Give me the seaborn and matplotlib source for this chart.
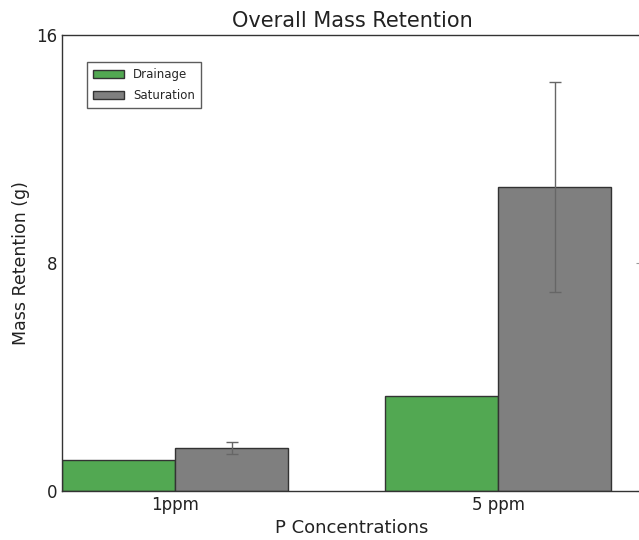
import numpy as np
import pandas as pd
import matplotlib
matplotlib.use("Agg")
import matplotlib.pyplot as plt
import seaborn as sns

# values
concentrations = ["1ppm", "5 ppm"]
treatments = ["Drainage", "Saturation"]
drainage = [1.09, 3.32]
saturation = [1.51, 10.67]
drainage_err = [0.0, 0.0]
saturation_err = [0.22, 3.7]

COLORS = {"Drainage": "#52A852", "Saturation": "#7F7F7F"}

df = pd.DataFrame({
    "conc": concentrations * 2,
    "treatment": ["Drainage"] * 2 + ["Saturation"] * 2,
    "mass": drainage + saturation,
    "err": drainage_err + saturation_err,
})

sns.set_style("white")
plt.rcParams["font.family"] = ["DejaVu Sans"]

fig = plt.figure(figsize=(6.39, 5.40), dpi=100)
ax = fig.add_axes([0.097, 0.091, 0.908, 0.844])

sns.barplot(data=df, x="conc", y="mass", hue="treatment",
            hue_order=treatments, order=concentrations,
            palette=COLORS, width=0.7, errorbar=None,
            edgecolor="#333333", linewidth=1.0, saturation=1,
            ax=ax)

# error bars on top of the bars
for patch, (_, row) in zip(ax.patches, df.iterrows()):
    if row["err"] > 0:
        xc = patch.get_x() + patch.get_width() / 2
        ax.errorbar(xc, row["mass"], yerr=row["err"], fmt="none",
                    ecolor="#666666", elinewidth=1.0, capsize=4, capthick=1.0)

ax.set_xlim(-0.35, 1.446)
ax.set_ylim(0, 16)
ax.set_yticks([0, 8, 16])
ax.set_xticks([0, 1])
ax.set_xticklabels(concentrations)
ax.tick_params(axis="both", direction="in", length=4, color="#999999",
               labelsize=12, labelcolor="#222222",
               top=False, right=True, bottom=False)
for s in ax.spines.values():
    s.set_color("#333333")
    s.set_linewidth(1.0)

ax.set_title("Overall Mass Retention", fontsize=15, pad=6, color="#222222")
ax.set_xlabel("P Concentrations", fontsize=13, color="#222222")
ax.set_ylabel("Mass Retention (g)", fontsize=12.5, color="#222222")

leg = ax.legend(loc="upper left", bbox_to_anchor=(0.043, 0.941), fontsize=8.5,
                frameon=True, fancybox=False, edgecolor="#333333",
                handlelength=2.6, handleheight=0.7, borderpad=0.5,
                labelspacing=0.7, borderaxespad=0)
leg.get_frame().set_linewidth(1.0)

fig.savefig("out.png", dpi=100)
